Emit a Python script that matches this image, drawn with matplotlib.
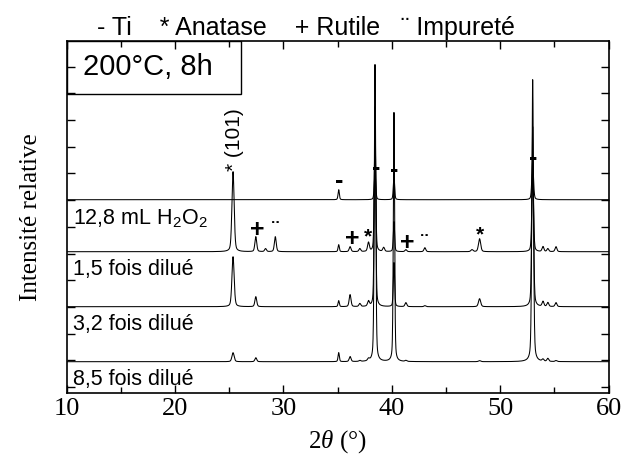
import numpy as np
import matplotlib.pyplot as plt
from matplotlib.patches import Rectangle

plt.rcParams['mathtext.fontset'] = 'custom'
plt.rcParams['mathtext.rm'] = 'Liberation Sans'
plt.rcParams['mathtext.it'] = 'Liberation Serif:italic'

# peaks: position (deg), height (a.u.), half width (deg)
ti_pos = [35.1, 38.45, 40.2, 53.0]
ana_pos = [25.35, 37.85, 48.1, 53.95, 55.15]
rut_pos = [27.45, 36.15, 41.3, 54.4]
imp_pos = [28.35, 29.25, 37.05, 39.25, 43.05, 47.4]

labels = ['12,8 mL H$_2$O$_2$', '1,5 fois dilué', '3,2 fois dilué', '8,5 fois dilué']
offsets = [193, 141, 86, 31]

ti_h = [[10, 27, 23, 38],
        [7, 120, 30, 80],
        [6, 200, 44, 180],
        [9, 297, 249, 282]]
ana_h = [[0, 0, 0, 0, 0],
         [80, 9, 13, 5, 5],
         [50, 5, 8, 5, 4],
         [9, 2, 1, 2, 1]]
rut_h = [[0, 0, 0, 0],
         [15, 5, 2, 3],
         [10, 12, 4, 4],
         [4, 5, 1, 3]]
imp_h = [[0, 0, 0, 0, 0, 0],
         [3, 15, 3, 4, 4, 2],
         [0, 0, 3, 0, 1, 0],
         [0, 0, 1, 0, 0, 0]]

ti_w = [0.07, 0.08, 0.07, 0.09]
ana_w = [0.12, 0.1, 0.12, 0.1, 0.1]
rut_w = [0.1, 0.1, 0.1, 0.1]
imp_w = [0.1, 0.1, 0.1, 0.1, 0.1, 0.12]

two_theta = np.arange(10, 60.001, 0.01)


def pattern(k):
    y = np.zeros_like(two_theta)
    for pos, hh, ww in [(ti_pos, ti_h[k], ti_w), (ana_pos, ana_h[k], ana_w),
                        (rut_pos, rut_h[k], rut_w), (imp_pos, imp_h[k], imp_w)]:
        for c, h, w in zip(pos, hh, ww):
            u = (two_theta - c) / w
            # pseudo-Voigt profile
            y += h * (0.35 / (1 + u ** 2) + 0.65 * np.exp(-np.log(2) * u ** 2))
    return y + offsets[k]


fig = plt.figure(figsize=(6.24, 4.67), dpi=100)
ax = fig.add_axes([0.1069, 0.1591, 0.8683, 0.7537])

for k in range(4):
    ax.plot(two_theta, pattern(k), color='black', lw=0.75)
    ax.text(10.6, offsets[k] - 18, labels[k], fontsize=15.5, family='Liberation Sans',
            va='center', ha='left')

ax.set_xlim(10, 60)
ax.set_ylim(0, 352)
ax.set_xticks([10, 20, 30, 40, 50, 60])
ax.set_xticks([15, 25, 35, 45, 55], minor=True)
ax.set_yticks(np.arange(5.7, 352, 26.7))
ax.set_yticklabels([])
ax.tick_params(which='both', direction='in', top=True, right=True, width=1)
ax.tick_params(which='major', length=6)
ax.tick_params(which='minor', length=4)
for lab in ax.get_xticklabels():
    lab.set_family('Liberation Serif')
    lab.set_fontsize(19)
for s in ax.spines.values():
    s.set_linewidth(1.2)

ax.set_xlabel('2$\\theta$ (°)', family='Liberation Serif', fontsize=18, labelpad=6)
ax.set_ylabel('Intensité relative', family='Liberation Serif', fontsize=18, labelpad=14)

# box with conditions
ax.add_patch(Rectangle((10, 298.7), 16.1, 53.3, fill=False, lw=1.0, color='black'))
ax.text(11.5, 325.3, '200°C, 8h', family='Liberation Sans', fontsize=21, va='center')

# phase markers
marks = [('-', 35.1, 212), ('-', 38.6, 225), ('-', 40.25, 223), ('-', 53.05, 235),
         ('+', 27.55, 163), ('¨', 29.25, 163), ('+', 36.35, 154), ('*', 37.8, 156),
         ('+', 41.4, 150), ('¨', 43.0, 150), ('*', 48.1, 158)]
for sym, x, y in marks:
    ax.text(x, y, sym, fontsize=18 if sym in '+-' else 15, fontweight='bold',
            family='Liberation Sans', ha='center', va='center')
ax.text(25.45, 222, '* (101)', rotation=90, family='Liberation Sans', fontsize=15,
        ha='center', va='bottom')

fig.text(0.49, 0.925, '- Ti    * Anatase    + Rutile   ¨ Impureté',
         family=['Liberation Sans Narrow', 'Liberation Sans'], fontsize=18,
         ha='center', va='baseline')

fig.savefig('out.png', dpi=100)
